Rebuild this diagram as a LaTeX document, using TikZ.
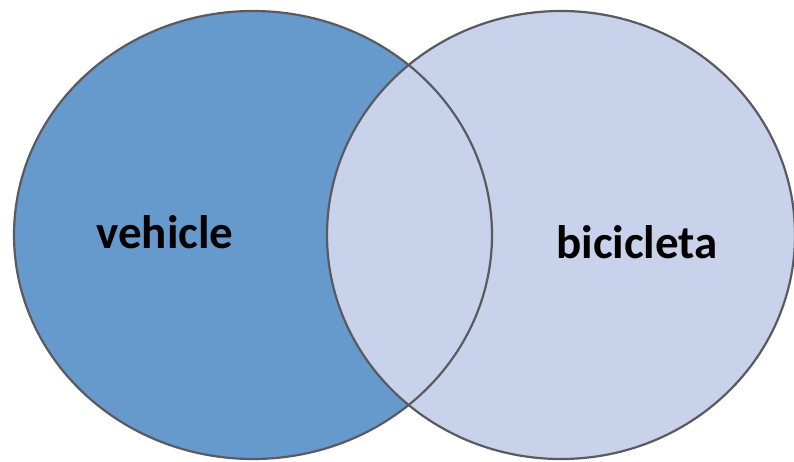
\documentclass[tikz,border=0pt]{standalone}
\usepackage{fontspec}
\setmainfont{Carlito}
\usetikzlibrary{shapes.geometric}
\definecolor{leftfill}{RGB}{102,153,204}
\definecolor{rightfill}{RGB}{200,210,234}
\definecolor{rim}{RGB}{90,90,96}
\tikzset{
  setfill/.style={ellipse, inner sep=0pt, draw=none},
  setrim/.style={ellipse, inner sep=0pt, draw=rim, line width=2.2pt},
  setlabel/.style={font=\fontsize{47}{50}\selectfont\bfseries, anchor=base, inner sep=0pt}
}
\begin{document}
\begin{tikzpicture}[x=1pt,y=-1pt]
\useasboundingbox (0,0) rectangle (794,462);
\node[setfill, fill=leftfill, minimum width=478pt, minimum height=448pt] (A) at (253,235) {};
\node[setfill, fill=rightfill, minimum width=468pt, minimum height=448pt] (B) at (561,235) {};
\node[setrim, minimum width=478pt, minimum height=448pt] (Ar) at (253,235) {};
\node[setrim, minimum width=468pt, minimum height=448pt] (Br) at (561,235) {};
\node[setlabel] (va) at (165,248) {vehicle};
\node[setlabel] (vb) at (637,258) {bicicleta};
\end{tikzpicture}
\end{document}
